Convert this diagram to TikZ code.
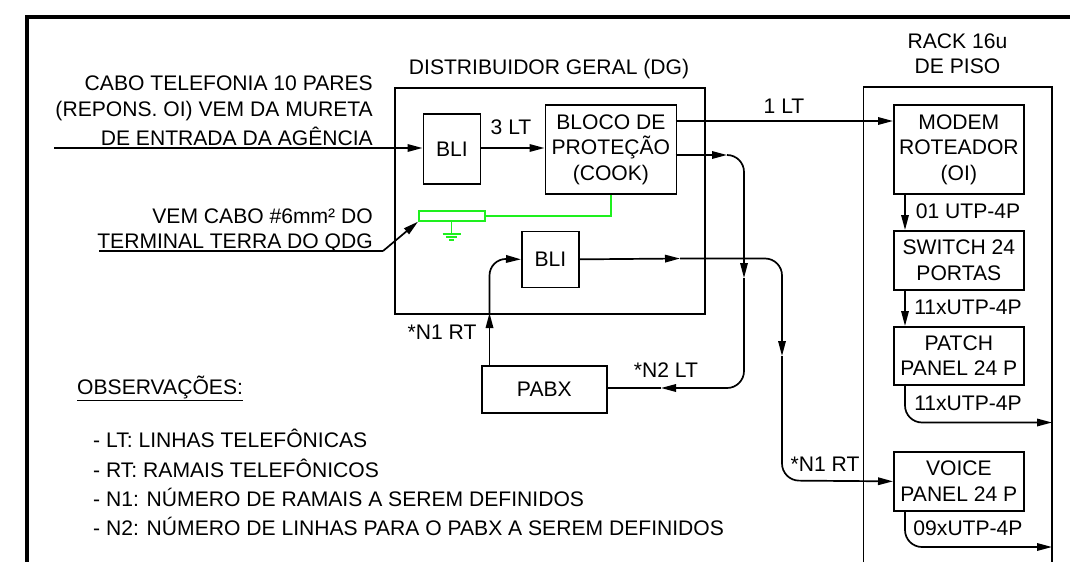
\documentclass[tikz,border=0pt]{standalone}
\usepackage{fontspec}
\setmainfont{Liberation Sans}
\usetikzlibrary{arrows.meta,calc,positioning}
\definecolor{terra}{RGB}{30,240,30}
\tikzset {
  >={Stealth[length=15pt,width=7.5pt,inset=0pt]},
  every node/.style={font=\fontsize{21.1}{25.5}\selectfont,inner sep=0pt},
  wire/.style={line width=1.7pt},
  greenwire/.style={line width=1.7pt,draw=terra},
  caixa/.style={draw,line width=1.7pt,align=center,anchor=north west},
  rotulo/.style={text height=15pt,text depth=0pt},
}

\begin{document}
\begin{tikzpicture}[x=1pt,y=-1pt]
  \useasboundingbox (0,0) rectangle (1070,562);
  % moldura
  \draw[line width=4pt] (1070,16.5) -- (26.5,16.5) -- (26.5,562);

  % caixas grandes
  \node[caixa,minimum width=310pt,minimum height=226pt] (dg) at (394,87) {};
  \draw[wire] (863.5,562) -- (863.5,87) -- (1052,87) -- (1052,562);
  \coordinate (rackwall) at (1052,87);

  % blocos
  \node[caixa,minimum width=57pt,minimum height=70pt] (bli1) at (422.5,113) {BLI};
  \node[caixa,minimum width=131pt,minimum height=89pt] (bloco) at (544.5,104) {BLOCO DE\\PROTEÇÃO\\(COOK)};
  \node[caixa,minimum width=57pt,minimum height=56pt] (bli2) at (521,230.5) {BLI};
  \node[caixa,minimum width=125pt,minimum height=47pt] (pabx) at (481,365) {PABX};
  \node[caixa,minimum width=130pt,minimum height=89pt] (modem) at (893,104) {MODEM\\ROTEADOR\\(OI)};
  \node[caixa,minimum width=130pt,minimum height=59pt] (switch) at (893,230) {SWITCH 24\\PORTAS};
  \node[caixa,minimum width=130pt,minimum height=58pt] (patch) at (893,326) {PATCH\\PANEL 24 P};
  \node[caixa,minimum width=130pt,minimum height=59pt] (voice) at (893,451) {VOICE\\PANEL 24 P};

  % textos
  \node[rotulo,anchor=east] (cabo1) at (373,83) {CABO TELEFONIA 10 PARES};
  \node[rotulo,anchor=east] (cabo2) at (373,109) {(REPONS. OI) VEM DA MURETA};
  \node[rotulo,anchor=east] (cabo3) at (373,138) {DE ENTRADA DA AGÊNCIA};
  \node[rotulo,anchor=east] (vem1) at (373,216) {VEM CABO \#6mm² DO};
  \node[rotulo,anchor=east] (vem2) at (373,241) {TERMINAL TERRA DO QDG};
  \node[rotulo] (dgtxt) at (549,67) {DISTRIBUIDOR GERAL (DG)};
  \node[rotulo] (rack1) at (957.5,41) {RACK 16u};
  \node[rotulo] (rack2) at (957.5,66) {DE PISO};
  \node[rotulo] (lt3) at (511,127) {3 LT};
  \node[rotulo] (lt1) at (784,106) {1 LT};
  \node[rotulo] (n1a) at (442,332) {*N1 RT};
  \node[rotulo] (n2) at (666,370) {*N2 LT};
  \node[rotulo] (n1b) at (825,464) {*N1 RT};
  \node[rotulo] (utp1) at (968,211) {01 UTP-4P};
  \node[rotulo] (utp2) at (968,307) {11xUTP-4P};
  \node[rotulo] (utp3) at (968,403) {11xUTP-4P};
  \node[rotulo] (utp4) at (968,528) {09xUTP-4P};
  \node[rotulo,anchor=west] (obs) at (77,387) {\underline{OBSERVAÇÕES:}};
  \node[rotulo,anchor=west] (obs1) at (93,440) {- LT: LINHAS TELEFÔNICAS};
  \node[rotulo,anchor=west] (obs2) at (93,470) {- RT: RAMAIS TELEFÔNICOS};
  \node[rotulo,anchor=west] (obs3) at (93,499) {- N1: NÚMERO DE RAMAIS A SEREM DEFINIDOS};
  \node[rotulo,anchor=west] (obs4) at (93,528) {- N2: NÚMERO DE LINHAS PARA O PABX A SEREM DEFINIDOS};

  % entrada
  \coordinate (entrada) at (54,148);
  \draw[->,wire] (entrada) -- (entrada -| bli1.west);
  \draw[->,wire] (bli1.east |- entrada) -- (entrada -| bloco.west);

  % saida 1 LT
  \coordinate (saida1) at (675.5,121);
  \draw[->,wire] (saida1) -- (saida1 -| modem.west);

  % saida para o PABX
  \coordinate (saida2) at (675.5,155);
  \coordinate (meio2a) at (727,155);
  \coordinate (meio2b) at (744,278);
  \coordinate (meio2c) at (661,388);
  \draw[->,wire] (saida2) -- (meio2a);
  \draw[->,wire,rounded corners=17pt] (meio2a) -- (744,155) -- (meio2b);
  \draw[->,wire,rounded corners=17pt] (meio2b) -- (744,388) -- (meio2c);
  \draw[wire] (meio2c) -- (meio2c -| pabx.east);

  % PABX para BLI
  \coordinate (sobe) at (489.5,313);
  \draw[->,wire] (sobe |- pabx.north) -- (sobe);
  \draw[->,wire,rounded corners=17pt] (sobe) -- (489.5,258.5) -- (bli2.west);

  % BLI para voice panel
  \coordinate (meio3a) at (680,258.5);
  \coordinate (meio3b) at (782,356);
  \draw[->,wire] (bli2.east) -- (meio3a);
  \draw[->,wire,rounded corners=17pt] (meio3a) -- (782,258.5) -- (meio3b);
  \draw[->,wire,rounded corners=17pt] (meio3b) -- (782,480.5) -- (voice.west);

  % dentro do rack
  \coordinate (coluna) at (905,0);
  \draw[->,wire] (coluna |- modem.south) -- (coluna |- switch.north);
  \draw[->,wire] (coluna |- switch.south) -- (coluna |- patch.north);
  \draw[->,wire,rounded corners=17pt] (coluna |- patch.south) -- (905,422.5) -- (rackwall |- 0,422.5);
  \draw[->,wire,rounded corners=17pt] (coluna |- voice.south) -- (905,547) -- (rackwall |- 0,547);

  % terra
  \node[draw=terra,line width=1.7pt,minimum width=66pt,minimum height=10pt,anchor=north west] (barra) at (418,210) {};
  \draw[greenwire] (barra.east) -- (bloco.south |- barra.east) -- (bloco.south);
  \coordinate (gnd) at (451.5,234);
  \draw[greenwire] (gnd |- barra.south) -- (gnd);
  \draw[greenwire] (442.5,234) -- (460.5,234);
  \draw[greenwire] (446,237) -- (457,237);
  \draw[greenwire] (449,240) -- (454,240);

  % cabo terra
  \coordinate (cabo) at (99,251);
  \draw[wire] (cabo) -- (383,251);
  \draw[->,wire] (383,251) -- (barra.south west);
\end{tikzpicture}
\end{document}
